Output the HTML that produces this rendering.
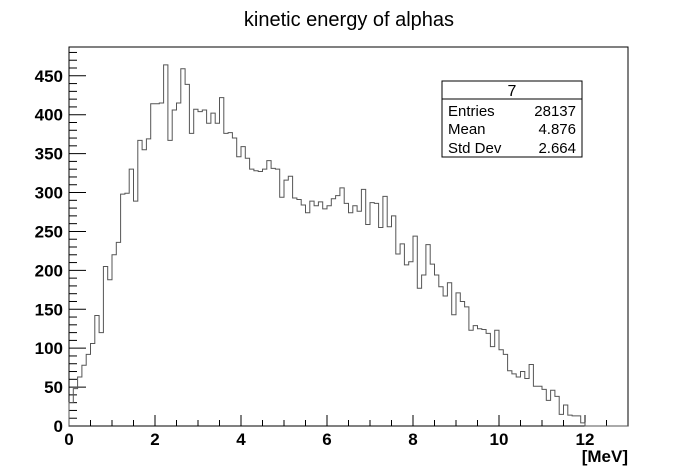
<!DOCTYPE html>
<html><head><meta charset="utf-8"><style>
body{margin:0;background:#fff;}
svg{display:block;font-family:"Liberation Sans",Arial,sans-serif;}
</style></head><body>
<svg id="chart" width="698" height="475">
<text x="349" y="26" font-size="20" text-anchor="middle">kinetic energy of alphas</text>
<rect x="69" y="47" width="559" height="379" fill="none" stroke="#000" stroke-width="1"/>
<g id="axes"></g>
<path id="hist" fill="none" stroke="#555" stroke-width="1"/>
<g>
<rect x="442" y="81" width="140" height="76" fill="#fff" stroke="#000" stroke-width="1"/>
<line x1="442" y1="99" x2="582" y2="99" stroke="#000"/>
<text x="512" y="96" font-size="16" text-anchor="middle">7</text>
<text x="448" y="116" font-size="15">Entries</text>
<text x="576" y="116" font-size="15" text-anchor="end">28137</text>
<text x="448" y="134" font-size="15">Mean</text>
<text x="576" y="134" font-size="15" text-anchor="end">4.876</text>
<text x="448" y="153" font-size="15">Std Dev</text>
<text x="576" y="153" font-size="15" text-anchor="end">2.664</text>
</g>
<text x="628" y="462" font-size="17" font-weight="bold" text-anchor="end">[MeV]</text>
</svg>
<script>
const binWidth = 0.1;
const xMin = 0, xMax = 13;
const yMin = 0, yMax = 487;
const counts = [30,48,63,78,92,106,142,120,205,188,220,236,298,299,330,289,367,355,369,414,414,415,464,367,406,415,459,439,376,407,404,406,389,402,389,422,376,377,370,346,359,344,330,
328,327,330,341,331,330,294,316,321,293,291,284,274,289,283,288,279,283,292,296,306,286,274,283,276,304,259,287,286,255,295,256,270,221,234,207,211,244,177,194,233,208,194,
179,167,184,143,171,160,153,123,129,125,124,119,102,123,98,92,71,67,63,70,61,79,51,51,47,33,46,38,15,27,14,13,13,4,0,0,0,0,0,0,0,0,0,0];
const xTickLabels = ["0","2","4","6","8","10","12"];
const xTickValues = [0,2,4,6,8,10,12];
const yTickValues = [0,50,100,150,200,250,300,350,400,450];
const yTickLabels = ["0","50","100","150","200","250","300","350","400","450"];

const L=69,R=628,T=47,B=426;
const sx=v=>L+(v-xMin)/(xMax-xMin)*(R-L);
const sy=v=>B-(v-yMin)/(yMax-yMin)*(B-T);
const NS="http://www.w3.org/2000/svg";
const axes=document.getElementById('axes');
function line(x1,y1,x2,y2,name){
  const l=document.createElementNS(NS,'line');
  l.setAttribute('x1',x1);l.setAttribute('y1',y1);l.setAttribute('x2',x2);l.setAttribute('y2',y2);
  l.setAttribute('stroke','#000');
  
  
  axes.appendChild(l);
}
function text(x,y,s,anchor,name){
  const t=document.createElementNS(NS,'text');
  t.setAttribute('x',x);t.setAttribute('y',y);t.setAttribute('text-anchor',anchor);
  t.setAttribute('font-size','17');t.setAttribute('font-weight','bold');
  t.textContent=s;
  
  
  axes.appendChild(t);
}
for(let v=0;v<=xMax+1e-9;v+=0.5){
  const major=Math.abs(v/2-Math.round(v/2))<1e-9;
  line(sx(v),B,sx(v),B-(major?11:6),'x-tick');
}
xTickValues.forEach((v,i)=>text(sx(v),B+19,xTickLabels[i],'middle','x-tick-label'));
for(let v=0;v<=yMax;v+=10){
  const major=v%50===0;
  line(L,sy(v),L+(major?17:8),sy(v),'y-tick');
}
yTickValues.forEach((v,i)=>text(L-6,sy(v)+6,yTickLabels[i],'end','y-tick-label'));
let d='M'+sx(0)+','+sy(0);
counts.forEach((c,i)=>{
  const x0=sx(i*binWidth),x1=sx((i+1)*binWidth),y=sy(c);
  d+=' L'+x0.toFixed(2)+','+y.toFixed(2)+' L'+x1.toFixed(2)+','+y.toFixed(2);
});
d+=' L'+sx(counts.length*binWidth).toFixed(2)+','+sy(0);
document.getElementById('hist').setAttribute('d',d);
</script>
</body></html>
